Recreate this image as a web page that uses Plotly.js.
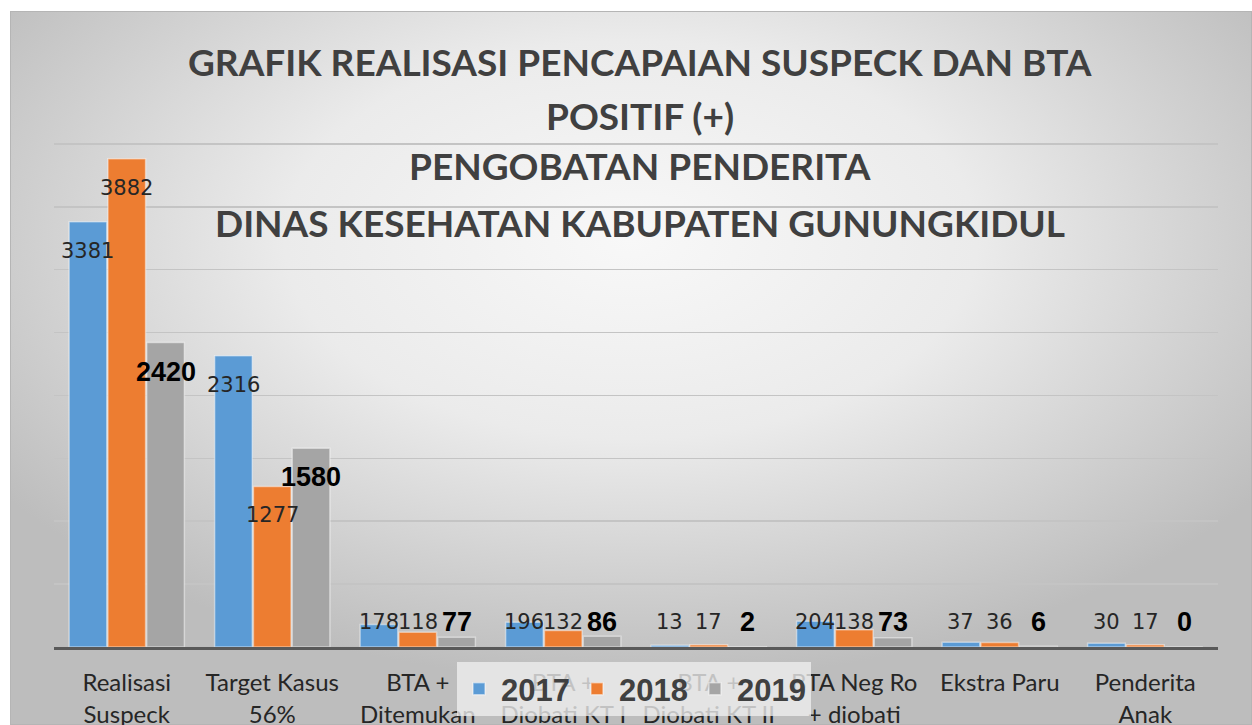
<!DOCTYPE html>
<html>
<head>
<meta charset="utf-8">
<script src="https://cdn.plot.ly/plotly-3.0.1.min.js"></script>
<style>html,body{margin:0;padding:0;background:#fff;}#chart{width:1252px;height:725px;}</style>
</head>
<body>
<div id="chart"></div>
<script>
// ---- data ----
const categories = ['Realisasi<br>Suspeck', 'Target Kasus<br>56%', 'BTA +<br>Ditemukan', 'BTA +<br>Diobati KT I', 'BTA +<br>Diobati KT II', 'BTA Neg Ro<br>+ diobati', 'Ekstra Paru', 'Penderita<br>Anak'];
const seriesNames = ['2017', '2018', '2019'];
const values2017 = [3381, 2316, 178, 196, 13, 204, 37, 30];
const values2018 = [3882, 1277, 118, 132, 17, 138, 36, 17];
const values2019 = [2420, 1580, 77, 86, 2, 73, 6, 0];
const titleLines = ['GRAFIK REALISASI PENCAPAIAN SUSPECK DAN BTA', 'POSITIF (+)', 'PENGOBATAN PENDERITA', 'DINAS KESEHATAN KABUPATEN GUNUNGKIDUL'];

// ---- style ----
const colors = ['#5B9BD5', '#ED7D31', '#A5A5A5'];
const W = 1252, H = 725;
const M = {l: 54, r: 34, t: 81, b: 78};
const plotW = W - M.l - M.r, plotH = H - M.t - M.b;
const yMax = 4500;
const bargap = 0.2;
const allValues = [values2017, values2018, values2019];

const traces = allValues.map((vals, i) => ({
  type: 'bar',
  name: seriesNames[i],
  x: categories,
  y: vals,
  marker: {color: colors[i], line: {color: 'rgba(255,255,255,0.45)', width: 1.5}},
  hoverinfo: 'x+y'
}));

const annotations = [];
// title lines
const titleY = [62, 115, 166, 222];
titleLines.forEach((t, k) => {
  annotations.push({
    xref: 'paper', yref: 'paper', x: (640 - M.l) / plotW, y: (H - M.b - titleY[k]) / plotH,
    xanchor: 'center', yanchor: 'middle', showarrow: false,
    text: '<b>' + t + '</b>',
    font: {family: 'Lato, Liberation Sans, sans-serif', size: 37, color: '#404040'}
  });
});
// data labels
const slotPx = plotW / categories.length * (1 - bargap) / 3;
const pxPerUnit = plotH / yMax;
allValues.forEach((vals, i) => {
  vals.forEach((v, j) => {
    const big = v * pxPerUnit > 60;
    annotations.push({
      xref: 'x', yref: 'y', x: categories[j], y: big ? v : 0,
      xshift: (i - 1) * slotPx, yshift: big ? -29 : 25,
      xanchor: 'center', yanchor: 'middle', showarrow: false,
      text: i === 2 ? '<b>' + v + '</b>' : String(v),
      font: i === 2 ? {family: 'Liberation Sans, Arial, sans-serif', size: 27, color: '#000000'}
                    : {family: 'DejaVu Sans, Verdana, sans-serif', size: 21, color: '#262626'}
    });
  });
});

const bgSvg = "<svg xmlns='http://www.w3.org/2000/svg' width='1242' height='714' viewBox='0 0 1242 714' preserveAspectRatio='none'>" +
  "<defs><radialGradient id='g' cx='50%' cy='32%' r='62%'>" +
  "<stop offset='0' stop-color='#f8f8f8'/><stop offset='0.45' stop-color='#ebebeb'/><stop offset='1' stop-color='#bdbdbd'/>" +
  "</radialGradient></defs><rect x='0.5' y='0.5' width='1241' height='713' fill='url(#g)' stroke='#b5b5b5' stroke-width='1'/></svg>";

const layout = {
  width: W, height: H,
  margin: {l: M.l, r: M.r, t: M.t, b: M.b, pad: 0, autoexpand: false},
  paper_bgcolor: '#ffffff',
  plot_bgcolor: 'rgba(0,0,0,0)',
  barmode: 'group',
  bargap: bargap,
  bargroupgap: 0.03,
  showlegend: true,
  legend: {
    orientation: 'h', x: (457 - M.l) / plotW, y: (H - M.b - 662) / plotH,
    xanchor: 'left', yanchor: 'top',
    bgcolor: 'rgba(238,238,238,0.78)', borderwidth: 0,
    font: {family: 'Liberation Sans, Arial, sans-serif', size: 31, color: '#404040', weight: 'bold'},
    itemwidth: 34, tracegroupgap: 0, traceorder: 'normal'
  },
  xaxis: {
    type: 'category', showgrid: false, zeroline: false,
    showline: true, linecolor: '#595959', linewidth: 2.5,
    ticks: '', ticklen: 0, ticklabelstandoff: 13, automargin: false,
    tickfont: {family: 'Lato, Liberation Sans, sans-serif', size: 24, color: '#262626'},
    fixedrange: true
  },
  yaxis: {
    range: [0, yMax], dtick: 500, showticklabels: false, ticks: '',
    showgrid: true, gridcolor: '#c4c4c4', gridwidth: 1.5,
    zeroline: false, showline: false, automargin: false, fixedrange: true
  },
  images: [{
    source: 'data:image/svg+xml;charset=utf-8,' + encodeURIComponent(bgSvg),
    xref: 'paper', yref: 'paper',
    x: (10 - M.l) / plotW, y: (H - M.b - 11) / plotH,
    sizex: 1242 / plotW, sizey: 714 / plotH,
    xanchor: 'left', yanchor: 'top', sizing: 'stretch', layer: 'below'
  }],
  annotations: annotations
};

Plotly.newPlot('chart', traces, layout, {displayModeBar: false, staticPlot: true});
</script>
</body>
</html>
